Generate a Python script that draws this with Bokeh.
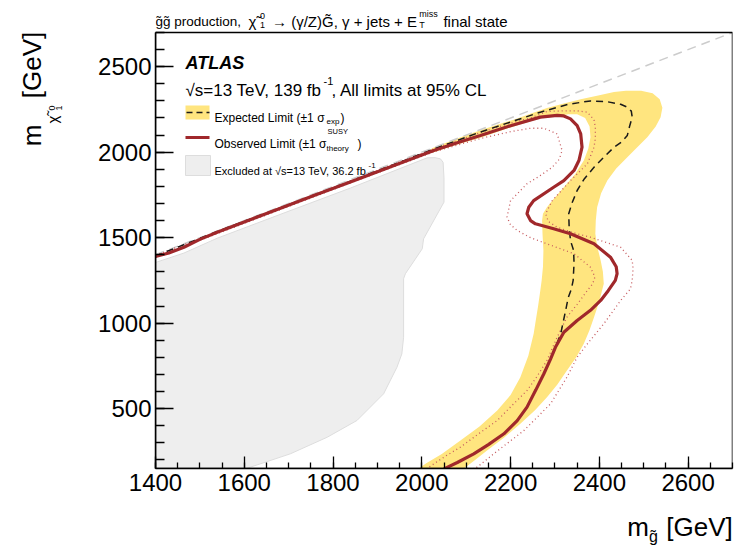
from bokeh.plotting import figure
from bokeh.models import Range1d, FixedTicker, Label, LinearAxis, BoxAnnotation
from bokeh.embed import file_html
from bokeh.resources import INLINE

# ---- exclusion contours in the (m_gluino, m_neutralino) plane [GeV] ----
obs_x = [1400, 1430, 1464, 1500, 1539, 1600, 1689, 1760, 1839, 1930, 2027, 2080, 2132, 2200, 2267,
         2305, 2320, 2335, 2350, 2358, 2361, 2354, 2343, 2320, 2297, 2252, 2241, 2237, 2245, 2256,
         2297, 2335, 2388, 2425, 2438, 2440, 2436, 2420, 2403, 2380, 2350, 2320, 2301, 2290, 2275,
         2257, 2237, 2215, 2185, 2150, 2117, 2080, 2050]
obs_y = [1390, 1410, 1444, 1490, 1532, 1592, 1679, 1750, 1825, 1915, 2010, 2055, 2098, 2155, 2205,
         2215, 2212, 2195, 2156, 2107, 2029, 1951, 1893, 1834, 1795, 1717, 1678, 1640, 1600, 1581,
         1552, 1523, 1464, 1386, 1330, 1290, 1250, 1190, 1133, 1075, 1016, 947, 859, 790, 704,
         610, 509, 430, 353, 290, 236, 185, 148]

exp_x = [1400, 1539, 1839, 2027, 2132, 2210, 2267, 2330, 2380, 2418, 2448, 2463, 2472, 2474, 2468,
         2463, 2450, 2433, 2410, 2388, 2365, 2350, 2338, 2331, 2332, 2335, 2342, 2343, 2341, 2337,
         2330, 2324, 2313, 2301, 2290, 2275, 2257, 2237, 2215, 2185, 2150, 2117, 2080, 2050]
exp_y = [1393, 1536, 1830, 2018, 2118, 2185, 2234, 2280, 2300, 2295, 2280, 2263, 2240, 2205, 2150,
         2098, 2060, 2029, 1970, 1912, 1840, 1776, 1700, 1640, 1560, 1483, 1425, 1350, 1250, 1200,
         1150, 1074, 938, 859, 790, 704, 610, 509, 430, 353, 290, 236, 185, 148]

# expected +-1 sigma band: outer edge (bottom -> top -> along diagonal), then inner edge back down
band_x = [2095, 2120, 2147, 2185, 2222, 2255, 2282, 2305, 2327, 2348, 2365, 2378, 2388, 2400, 2410,
          2408, 2403, 2395, 2391, 2392, 2395, 2404, 2418, 2438, 2463, 2486, 2508, 2527, 2538, 2542,
          2536, 2520, 2494, 2460, 2433, 2400, 2358, 2320, 2282, 2245, 2207, 2170, 2132, 2080, 2027,
          2000,
          2027, 2080, 2132, 2200, 2267, 2305, 2330, 2350, 2368, 2378, 2380, 2375, 2365, 2345, 2320,
          2295, 2282, 2273, 2271, 2272, 2274, 2273, 2270, 2267, 2262, 2257, 2252, 2240, 2222, 2200,
          2170, 2130, 2087, 2045, 2010, 1993]
band_y = [150, 200, 255, 330, 411, 490, 567, 640, 723, 800, 879, 960, 1035, 1130, 1230,
          1300, 1367, 1450, 1523, 1600, 1678, 1760, 1834, 1905, 1971, 2030, 2088, 2150, 2205, 2260,
          2310, 2345, 2360, 2360, 2352, 2333, 2310, 2285, 2258, 2225, 2190, 2160, 2128, 2080, 2028,
          1985,
          2000, 2045, 2085, 2145, 2198, 2210, 2222, 2222, 2200, 2150, 2088, 2020, 1951, 1870, 1795,
          1720, 1678, 1640, 1600, 1520, 1425, 1330, 1250, 1191, 1100, 1020, 938, 810, 684, 580,
          489, 395, 314, 235, 180, 150]

# observed -1 sigma(theory)
obs_dn_x = [1400, 1839, 2027, 2132, 2200, 2245, 2275, 2305, 2316, 2310, 2294, 2265, 2237, 2200, 2192,
            2200, 2215, 2245, 2282, 2343, 2380, 2390, 2385, 2373, 2350, 2327, 2305, 2282, 2260, 2237,
            2203, 2170, 2128, 2087, 2055, 2027, 2012]
obs_dn_y = [1386, 1820, 2002, 2080, 2120, 2140, 2140, 2107, 2010, 1960, 1912, 1860, 1815, 1717, 1620,
            1575, 1542, 1500, 1464, 1406, 1327, 1270, 1230, 1191, 1110, 1035, 918, 782, 690, 606,
            518, 431, 353, 275, 225, 177, 150]

# observed +1 sigma(theory)
obs_up_x = [1400, 1839, 2027, 2132, 2200, 2245, 2282, 2320, 2350, 2373, 2388, 2391, 2391, 2388, 2373,
            2335, 2294, 2279, 2285, 2305, 2340, 2380, 2448, 2474, 2476, 2474, 2470, 2448, 2410, 2373,
            2350, 2327, 2290, 2230, 2162, 2125, 2115]
obs_up_y = [1396, 1832, 2020, 2115, 2170, 2200, 2238, 2242, 2242, 2234, 2190, 2146, 2080, 2029, 1932,
            1834, 1717, 1640, 1595, 1561, 1530, 1503, 1444, 1367, 1320, 1250, 1200, 1133, 996, 879,
            801, 684, 528, 372, 236, 158, 150]

# previous result (36.2 fb-1) excluded region
prev_x = [1400, 1400, 1464, 1539, 1689, 1839, 2012, 2030, 2042, 2048, 2050, 2050, 2004, 2001, 1963,
          1959, 1959, 1955, 1944, 1914, 1854, 1787, 1704, 1614, 1605]
prev_y = [150, 1355, 1410, 1497, 1644, 1790, 1967, 1968, 1961, 1941, 1850, 1708, 1493, 1435, 1289,
          1260, 918, 820, 742, 587, 431, 333, 236, 158, 150]

# kinematic limit m_neutralino = m_gluino
diag_x = [1400, 2700]
diag_y = [1400, 2700]

x_major = [1400, 1600, 1800, 2000, 2200, 2400, 2600]
y_major = [500, 1000, 1500, 2000, 2500]

X0, X1 = 1400, 2700
Y0, Y1 = 150, 2700

# canvas pixels of the plotted box
FL, FR, FT, FB = 155, 732, 32, 468
W, H = 745, 549

# the drawing area runs up to the canvas top so the header can sit above the box
Y_TOP = Y1 + FT * (Y1 - Y0) / (FB - FT)

YELLOW = "#ffe57f"
RED = "#a0282b"
DOT = "#c65a5e"
FONT = "Liberation Sans"

p = figure(width=W, height=H, x_range=Range1d(X0, X1), y_range=Range1d(Y0, Y_TOP),
           toolbar_location=None, output_backend="svg", title=None,
           min_border_left=FL, min_border_right=W - FR, min_border_top=0, min_border_bottom=H - FB,
           background_fill_color="white", border_fill_color="white")
p.grid.visible = False
p.outline_line_color = None

p.xaxis.ticker = FixedTicker(ticks=x_major, minor_ticks=list(range(1400, 2701, 50)))
p.yaxis.ticker = FixedTicker(ticks=y_major, minor_ticks=list(range(200, 2701, 100)))
p.yaxis.bounds = (Y0, Y1)
for ax in (p.xaxis, p.yaxis):
    ax.axis_line_color = "black"
    ax.axis_line_width = 1.5
    ax.major_tick_line_color = "black"
    ax.minor_tick_line_color = "black"
    ax.major_tick_line_width = 1.3
    ax.minor_tick_line_width = 1.3
    ax.major_tick_out = 0
    ax.minor_tick_out = 0
    ax.major_label_text_font = FONT
    ax.major_label_text_font_size = "24px"
    ax.major_label_text_color = "black"
p.xaxis.major_tick_in = 12
p.xaxis.minor_tick_in = 6
p.yaxis.major_tick_in = 18
p.yaxis.minor_tick_in = 9
p.xaxis.major_label_standoff = 5
p.yaxis.major_label_standoff = 4

# contours
p.patch(prev_x, prev_y, fill_color="#eeeeee", line_color="#dddddd", line_width=1)
p.patch(band_x, band_y, fill_color=YELLOW, line_color=None)
p.line(diag_x, diag_y, line_color="#cccccc", line_width=1.5, line_dash="9 6")
p.line(obs_dn_x, obs_dn_y, line_color=DOT, line_width=1.3, line_dash="1 3")
p.line(obs_up_x, obs_up_y, line_color=DOT, line_width=1.3, line_dash="1 3")
p.line(exp_x, exp_y, line_color="#1a1a1a", line_width=1.5, line_dash="7 5")
p.line(obs_x, obs_y, line_color=RED, line_width=3.2)

# box around the plotted region
p.add_layout(BoxAnnotation(left=X0, right=X1, bottom=Y0, top=Y1, fill_color=None,
                           line_color="black", line_alpha=1.0, line_width=1.5))


def dx(px):
    return X0 + (px - FL) * (X1 - X0) / (FR - FL)


def dy(py):
    return Y0 + (FB - py) * (Y1 - Y0) / (FB - FT)


def label(px, py, text, size, style="normal", align="left"):
    # text inside the drawing area, offsets measured from its lower-left corner
    p.add_layout(Label(x=px - FL, y=FB - py, x_units="screen", y_units="screen",
                       text=text, text_font=FONT,
                       text_font_size=f"{size}px", text_align=align,
                       text_baseline="alphabetic",
                       text_font_style=style, text_color="black"))


def text_row(side, pieces, size, standoff):
    """One row of an axis title, drawn as the tick labels of a bare axis.
    Rows stack outwards from the box; standoff sets the gap to the previous row.
    pieces: (centre_px, text) along the row."""
    horizontal = side in ("above", "below")
    conv = dx if horizontal else dy
    ticks = [round(conv(c), 3) for c, _ in pieces]
    ax = LinearAxis(ticker=FixedTicker(ticks=ticks, minor_ticks=[]),
                    major_label_overrides={t: s for t, (_, s) in zip(ticks, pieces)},
                    major_label_text_font=FONT, major_label_text_font_size=f"{size}px",
                    major_label_text_color="black", major_label_standoff=standoff,
                    major_label_orientation="horizontal" if horizontal else "vertical",
                    axis_line_color=None, major_tick_line_color=None, minor_tick_line_color=None,
                    major_tick_in=0, major_tick_out=0, minor_tick_in=0, minor_tick_out=0)
    p.add_layout(ax, side)


# legend keys
p.quad(left=[dx(185)], right=[dx(209)], bottom=[dy(119)], top=[dy(105)],
       fill_color=YELLOW, line_color=None)
p.segment(x0=[dx(186)], x1=[dx(209)], y0=[dy(112)], y1=[dy(112)],
          line_color="#1a1a1a", line_width=1.5, line_dash="6 4")
p.segment(x0=[dx(185)], x1=[dx(209)], y0=[dy(137)], y1=[dy(137)],
          line_color=RED, line_width=3.2)
p.quad(left=[dx(185)], right=[dx(210)], bottom=[dy(175)], top=[dy(155)],
       fill_color="#eeeeee", line_color="#dddddd", line_width=1)

# legend text
label(185, 62, "ATLAS", 18, style="bold italic")
label(185, 90, "\u221as=13 TeV, 139 fb", 17)
label(323, 80, "-1", 11)
label(331, 90, ", All limits at 95% CL", 17)
label(214, 117, "Expected Limit (\u00b11 \u03c3", 12)
label(326, 121, "exp", 8)
label(340, 117, ")", 12)
label(214, 143, "Observed Limit (\u00b11 \u03c3", 12)
label(327, 131, "SUSY", 7.5)
label(326, 148, "theory", 8)
label(357, 143, ")", 12)
label(214, 170, "Excluded at \u221as=13 TeV, 36.2 fb", 11)
label(368, 165, "-1", 8)

# header above the box
label(155, 21, "g\u0303g\u0303 production,", 13.5)
label(252, 21, "\u03c7\u0303", 15, align="center")
label(262, 15, "0", 9, align="center")
label(262, 24, "1", 9, align="center")
label(344, 21, "\u2192 (\u03b3/Z)G\u0303, \u03b3 + jets + E", 15, align="center")
label(428, 13, "miss", 9, align="center")
label(421.5, 24, "T", 9, align="center")
label(475, 21, "final state", 15, align="center")

# x-axis title
text_row("below", [(637.5, "m"), (699, "[GeV]")], 26, 18)
text_row("below", [(653, "g\u0303")], 16, -17)

# y-axis title, reading bottom to top (rows from the tick labels outwards)
text_row("left", [(107.5, "1")], 9, 33)
text_row("left", [(107.5, "0")], 9, -2)
text_row("left", [(119, "\u03c7\u0303")], 15, -15)
text_row("left", [(135, "m"), (64.5, "[GeV]")], 26, -6)

open("out.html", "w").write(file_html(p, INLINE))
